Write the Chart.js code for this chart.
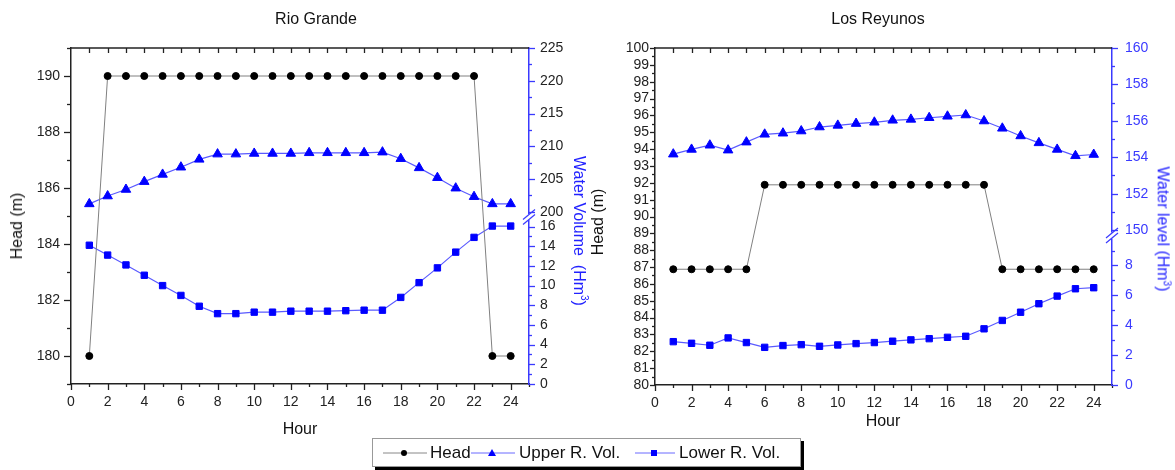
<!DOCTYPE html>
<html>
<head>
<meta charset="utf-8">
<script src="https://cdn.jsdelivr.net/npm/chart.js@4/dist/chart.umd.min.js"></script>
<style>
  body { margin: 0; background: #fff; font-family: "Liberation Sans", Arial, sans-serif; }
  #page { position: relative; width: 1175px; height: 470px; overflow: hidden; }
  canvas { position: absolute; top: 0; }
  .txt { position: absolute; white-space: nowrap; color: #111; font-size: 16px; transform: translate(-50%, -50%); }
  .blue { color: #2222ff; }
  .up { transform: translate(-50%, -50%) rotate(-90deg); }
  .down { transform: translate(-50%, -50%) rotate(90deg); }
  sup { font-size: 10px; }
  #legend { position: absolute; left: 372px; top: 438px; width: 427px; height: 27px; border: 1px solid #999;
            box-shadow: 3px 3px 0 #000; background: #fff; font-size: 17px; color: #111; }
  #legend span, #legend svg { position: absolute; top: 4px; }
</style>
</head>
<body>
<div id="page">
  <canvas id="rio" width="590" height="470" style="left:0"></canvas>
  <canvas id="rey" width="585" height="470" style="left:590px"></canvas>

  <div class="txt" style="left:316px;top:19px">Rio Grande</div>
  <div class="txt" style="left:878px;top:19px">Los Reyunos</div>
  <div class="txt up" style="left:17px;top:226px">Head (m)</div>
  <div class="txt up" style="left:598px;top:222px">Head (m)</div>
  <div class="txt" style="left:300px;top:429px">Hour</div>
  <div class="txt" style="left:883px;top:421px">Hour</div>
  <div class="txt down blue" style="left:580px;top:231px">Water Volume&nbsp; (Hm<sup>3</sup>)</div>
  <div class="txt down blue" style="left:1163px;top:229px">Water level (Hm<sup>3</sup>)</div>

  <div id="legend">
    <svg style="left:10px;top:7px" width="44" height="14"><line x1="0" y1="7" x2="44" y2="7" stroke="#888" stroke-width="1"/><circle cx="21" cy="7" r="3" fill="#000"/></svg>
    <span style="left:57px">Head</span>
    <svg style="left:98px;top:7px" width="44" height="14"><line x1="0" y1="7" x2="44" y2="7" stroke="#6a6aff" stroke-width="1"/><polygon points="21,3 25,10 17,10" fill="#0000ff"/></svg>
    <span style="left:146px">Upper R. Vol.</span>
    <svg style="left:262px;top:7px" width="40" height="14"><line x1="0" y1="7" x2="40" y2="7" stroke="#6a6aff" stroke-width="1"/><rect x="16" y="4" width="6" height="6" fill="#0000ff"/></svg>
    <span style="left:306px">Lower R. Vol.</span>
  </div>
</div>

<script>
const hours = [1, 2, 3, 4, 5, 6, 7, 8, 9, 10, 11, 12, 13, 14, 15, 16, 17, 18, 19, 20, 21, 22, 23, 24];

// Rio Grande
const rioHead  = [180, 190, 190, 190, 190, 190, 190, 190, 190, 190, 190, 190,
                  190, 190, 190, 190, 190, 190, 190, 190, 190, 190, 180, 180];
const rioUpper = [201.2, 202.4, 203.4, 204.6, 205.7, 206.8, 208.0, 208.8, 208.8, 208.9, 208.9, 208.9,
                  209.0, 209.0, 209.0, 209.0, 209.1, 208.1, 206.7, 205.2, 203.6, 202.3, 201.2, 201.2];
const rioLower = [14.1, 13.1, 12.1, 11.05, 10.0, 9.0, 7.9, 7.15, 7.15, 7.3, 7.3, 7.4,
                  7.4, 7.4, 7.45, 7.5, 7.5, 8.8, 10.3, 11.8, 13.4, 14.9, 16.05, 16.05];

// Los Reyunos
const reyHead  = [86.87, 86.87, 86.87, 86.87, 86.87, 91.88, 91.88, 91.88, 91.88, 91.88, 91.88, 91.88,
                  91.88, 91.88, 91.88, 91.88, 91.88, 91.88, 86.87, 86.87, 86.87, 86.87, 86.87, 86.87];
const reyUpper = [154.17, 154.43, 154.66, 154.39, 154.83, 155.26, 155.32, 155.44, 155.66, 155.75, 155.85, 155.92,
                  156.03, 156.08, 156.17, 156.25, 156.32, 155.99, 155.59, 155.17, 154.79, 154.43, 154.08, 154.15];
const reyLower = [2.90, 2.79, 2.66, 3.15, 2.84, 2.52, 2.64, 2.70, 2.59, 2.68, 2.77, 2.84,
                  2.93, 3.02, 3.10, 3.19, 3.26, 3.76, 4.32, 4.87, 5.44, 5.95, 6.44, 6.51];

// tick labels
const hourTicks     = [0, 2, 4, 6, 8, 10, 12, 14, 16, 18, 20, 22, 24];
const rioHeadTicks  = [180, 182, 184, 186, 188, 190];
const rioUpperTicks = [200, 205, 210, 215, 220, 225];
const rioLowerTicks = [0, 2, 4, 6, 8, 10, 12, 14, 16];
const reyHeadTicks  = [80, 81, 82, 83, 84, 85, 86, 87, 88, 89, 90, 91, 92, 93, 94, 95, 96, 97, 98, 99, 100];
const reyUpperTicks = [150, 152, 154, 156, 158, 160];
const reyLowerTicks = [0, 2, 4, 6, 8];

const DARK = '#222';
const BLUE = '#3a3aff';

function points(ys) {
    return hours.map((h, i) => ({x: h, y: ys[i]}));
}

// midpoints between the labelled ticks (plus one step beyond the ends if still inside the axis)
function minorTicks(ticks, min, max) {
    const out = [];
    const step = ticks[1] - ticks[0];
    if (ticks[0] - step / 2 >= min) out.push(ticks[0] - step / 2);
    for (let i = 0; i < ticks.length - 1; i++) out.push((ticks[i] + ticks[i + 1]) / 2);
    if (ticks[ticks.length - 1] + step / 2 <= max + 1e-6) out.push(ticks[ticks.length - 1] + step / 2);
    return out;
}

function setTicks(list) {
    return scale => { scale.ticks = list.map(v => ({value: v})); };
}

function makeChart(id, c) {
    const tickFont = {family: '"Liberation Sans", Arial, sans-serif', size: 14};
    const noGrid = {display: false, drawTicks: false};

    // draws tick marks, top frame and the axis break
    const marks = {
        id: 'marks',
        afterDraw(chart) {
            const ctx = chart.ctx;
            const area = chart.chartArea;
            ctx.save();
            ctx.lineWidth = 1.3;
            c.marks.forEach(m => {
                const s = chart.scales[m.id];
                ctx.strokeStyle = m.color;
                const draw = (v, len) => {
                    const p = Math.round(s.getPixelForValue(v)) + 0.5;
                    ctx.beginPath();
                    if (s.isHorizontal()) {
                        ctx.moveTo(p, area.bottom); ctx.lineTo(p, area.bottom + len);
                    } else if (s.position === 'left') {
                        ctx.moveTo(area.left, p); ctx.lineTo(area.left - len, p);
                    } else {
                        ctx.moveTo(area.right, p); ctx.lineTo(area.right + len, p);
                    }
                    ctx.stroke();
                };
                m.ticks.forEach(v => draw(v, m.major));
                minorTicks(m.ticks, s.min, s.max).forEach(v => draw(v, m.minor));
            });

            // top frame with inward ticks
            const xs = chart.scales.x;
            ctx.strokeStyle = DARK;
            ctx.lineWidth = 1.5;
            ctx.beginPath();
            ctx.moveTo(area.left, area.top);
            ctx.lineTo(area.right, area.top);
            ctx.stroke();
            ctx.lineWidth = 1.3;
            hours.forEach(h => {
                const p = Math.round(xs.getPixelForValue(h)) + 0.5;
                ctx.beginPath();
                ctx.moveTo(p, area.top);
                ctx.lineTo(p, area.top + 5);
                ctx.stroke();
            });

            // axis break between the two stacked right axes
            const yb = chart.scales.yU.bottom;
            const xb = area.right;
            ctx.fillStyle = '#fff';
            ctx.fillRect(xb - 2, yb - 3, 4, 6);
            ctx.strokeStyle = BLUE;
            ctx.lineWidth = 1.2;
            [-2.5, 2.5].forEach(d => {
                ctx.beginPath();
                ctx.moveTo(xb - 6, yb + 5 + d);
                ctx.lineTo(xb + 6, yb - 5 + d);
                ctx.stroke();
            });
            ctx.restore();
        }
    };

    return new Chart(document.getElementById(id), {
        type: 'line',
        data: {
            datasets: [{
                label: 'Head',
                data: points(c.head),
                yAxisID: 'y',
                borderColor: '#808080',
                borderWidth: 1,
                pointStyle: 'circle',
                pointRadius: 3.5,
                pointBackgroundColor: '#000',
                pointBorderColor: '#000',
                pointBorderWidth: 1
            }, {
                label: 'Upper R. Vol.',
                data: points(c.upper),
                yAxisID: 'yU',
                borderColor: '#5a5aff',
                borderWidth: 1.2,
                pointStyle: 'triangle',
                pointRadius: 5.5,
                pointBackgroundColor: '#0000ff',
                pointBorderColor: '#0000ff',
                pointBorderWidth: 1
            }, {
                label: 'Lower R. Vol.',
                data: points(c.lower),
                yAxisID: 'yL',
                borderColor: '#5a5aff',
                borderWidth: 1.2,
                pointStyle: 'rect',
                pointRadius: 4.5,
                pointBackgroundColor: '#0000ff',
                pointBorderColor: '#0000ff',
                pointBorderWidth: 1
            }]
        },
        options: {
            responsive: false,
            animation: false,
            devicePixelRatio: 1,
            layout: {padding: {top: 48, left: 0, right: 0, bottom: 0}},
            plugins: {legend: {display: false}, tooltip: {enabled: false}},
            scales: {
                x: {
                    type: 'linear', min: 0, max: 25,
                    afterBuildTicks: setTicks(hourTicks),
                    afterFit: s => { s.height = c.xHeight; },
                    grid: noGrid,
                    border: {color: DARK, width: 1.5},
                    ticks: {font: tickFont, color: DARK, padding: 10, maxRotation: 0, autoSkip: false}
                },
                y: {
                    position: 'left', min: c.headMin, max: c.headMax,
                    afterBuildTicks: setTicks(c.headTicks),
                    afterFit: s => { s.width = c.leftW; },
                    grid: noGrid,
                    border: {color: DARK, width: 1.5},
                    ticks: {font: tickFont, color: DARK, padding: c.leftPad, autoSkip: false}
                },
                yU: {
                    position: 'right', stack: 'vol', stackWeight: c.upperWeight,
                    min: c.upperMin, max: c.upperMax,
                    afterBuildTicks: setTicks(c.upperTicks),
                    afterFit: s => { s.width = c.rightW; },
                    grid: noGrid,
                    border: {color: BLUE, width: 1.5},
                    ticks: {font: tickFont, color: c.rightColor, padding: c.rightPad, autoSkip: false}
                },
                yL: {
                    position: 'right', stack: 'vol', stackWeight: c.lowerWeight,
                    min: 0, max: c.lowerMax,
                    afterBuildTicks: setTicks(c.lowerTicks),
                    afterFit: s => { s.width = c.rightW; },
                    grid: noGrid,
                    border: {color: BLUE, width: 1.5},
                    ticks: {font: tickFont, color: c.rightColor, padding: c.rightPad, autoSkip: false}
                }
            }
        },
        plugins: [marks]
    });
}

makeChart('rio', {
    head: rioHead, upper: rioUpper, lower: rioLower,
    headTicks: rioHeadTicks, upperTicks: rioUpperTicks, lowerTicks: rioLowerTicks,
    headMin: 179, headMax: 191,
    upperMin: 199.2, upperMax: 225, lowerMax: 16.97,
    upperWeight: 169, lowerWeight: 167,
    leftW: 71, rightW: 61, xHeight: 86,
    leftPad: 11, rightPad: 11, rightColor: DARK,
    marks: [
        {id: 'x', ticks: hourTicks, major: 6, minor: 3, color: DARK},
        {id: 'y', ticks: rioHeadTicks, major: 7, minor: 4, color: DARK},
        {id: 'yU', ticks: rioUpperTicks, major: 6, minor: 3, color: BLUE},
        {id: 'yL', ticks: rioLowerTicks, major: 6, minor: 3, color: BLUE}
    ]
});

makeChart('rey', {
    head: reyHead, upper: reyUpper, lower: reyLower,
    headTicks: reyHeadTicks, upperTicks: reyUpperTicks, lowerTicks: reyLowerTicks,
    headMin: 80, headMax: 100,
    upperMin: 149.7, upperMax: 160, lowerMax: 10,
    upperWeight: 187, lowerWeight: 149,
    leftW: 65, rightW: 63, xHeight: 85,
    leftPad: 6, rightPad: 13, rightColor: BLUE,
    marks: [
        {id: 'x', ticks: hourTicks, major: 6, minor: 3, color: DARK},
        {id: 'y', ticks: reyHeadTicks, major: 5, minor: 3, color: DARK},
        {id: 'yU', ticks: reyUpperTicks, major: 6, minor: 3, color: BLUE},
        {id: 'yL', ticks: reyLowerTicks, major: 6, minor: 3, color: BLUE}
    ]
});
</script>
</body>
</html>
